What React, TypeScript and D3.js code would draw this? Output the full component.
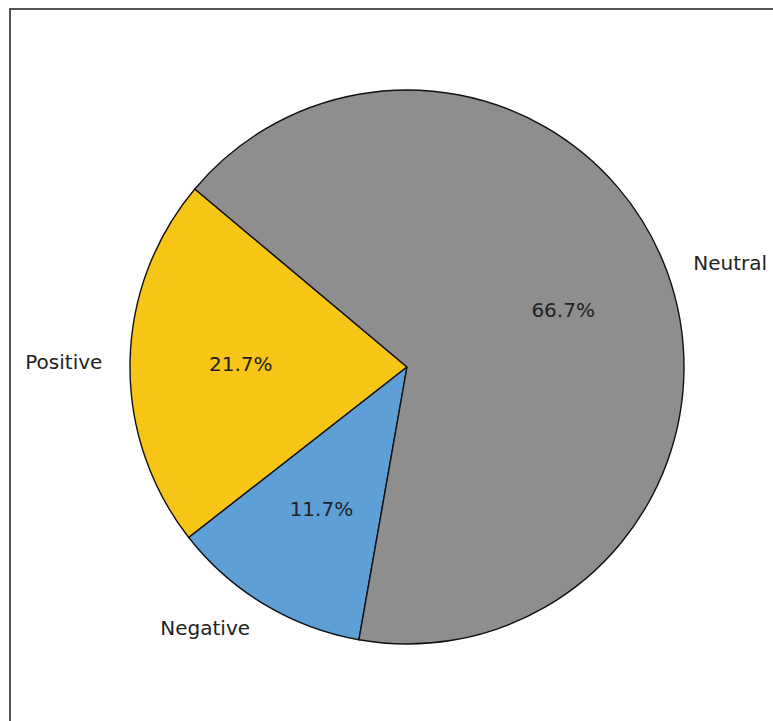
import React from "react";
import * as d3 from "d3";

const categories = ["Positive", "Negative", "Neutral"];
const counts = [13, 7, 40];
const colors = ["#F7C516", "#5E9FD6", "#8E8E8E"];

const WIDTH = 773;
const HEIGHT = 721;
const CX = 407;
const CY = 367;
const R = 277;
const START_DEG = 140; // counter-clockwise start, measured from 3 o'clock

export default function App() {
  const total = d3.sum(counts);
  // d3.pie measures clockwise from 12 o'clock; convert the counter-clockwise layout
  const startRad = ((90 - START_DEG) * Math.PI) / 180;
  const pie = d3
    .pie<number>()
    .sort(null)
    .startAngle(startRad)
    .endAngle(startRad - 2 * Math.PI);
  const arcs = pie(counts);
  const arc = d3.arc<d3.PieArcDatum<number>>().innerRadius(0).outerRadius(R);

  const fmt = d3.format(".1f");

  return (
    <svg
      width={WIDTH}
      height={HEIGHT}
      style={{ position: "absolute", left: 0, top: 0, background: "#fff" }}
      fontFamily="DejaVu Sans, sans-serif"
    >
      <rect x={10} y={9} width={WIDTH + 20} height={HEIGHT + 20} fill="#fff" stroke="#555" strokeWidth={2} />
      <g transform={`translate(${CX},${CY})`}>
        {arcs.map((a, i) => (
          <path key={categories[i]} d={arc(a) || ""} fill={colors[i]} stroke="#111" strokeWidth={1.4} strokeLinejoin="round" />
        ))}
        {arcs.map((a, i) => {
          const mid = (a.startAngle + a.endAngle) / 2;
          const sx = Math.sin(mid);
          const sy = -Math.cos(mid);
          const lx = 1.1 * R * sx;
          const ly = 1.1 * R * sy;
          const px = 0.6 * R * sx;
          const py = 0.6 * R * sy;
          return (
            <g key={"t" + categories[i]}>
              <text
                x={lx}
                y={ly}
                fontSize={20}
                fill="#222"
                dominantBaseline="central"
                textAnchor={sx < 0 ? "end" : "start"}
              >
                {categories[i]}
              </text>
              <text x={px} y={py} fontSize={20} fill="#222" dominantBaseline="central" textAnchor="middle">
                {fmt((counts[i] / total) * 100)}%
              </text>
            </g>
          );
        })}
      </g>
    </svg>
  );
}
